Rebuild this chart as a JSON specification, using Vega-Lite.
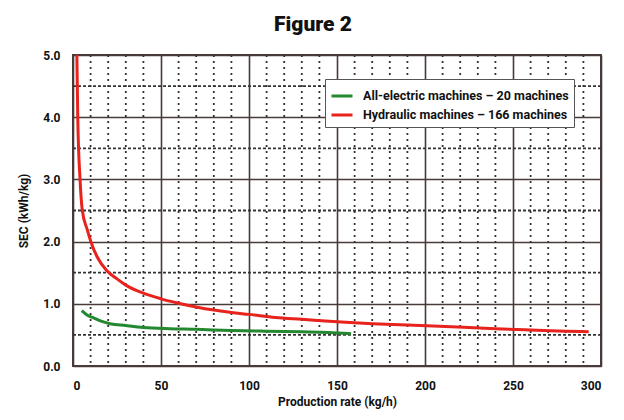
{
  "$schema": "https://vega.github.io/schema/vega-lite/v6.json",
  "autosize": {"type": "none"},
  "width": 528,
  "height": 311,
  "padding": {"left": 73, "top": 55, "right": 23, "bottom": 54},
  "background": "white",
  "title": {
    "text": "Figure 2",
    "fontSize": 21,
    "font": "Roboto",
    "fontWeight": 900,
    "color": "#111",
    "anchor": "middle",
    "dx": -24,
    "offset": 14
  },
  "config": {
    "view": {"stroke": "#4a3b3b", "strokeWidth": 2},
    "axis": {
      "labelFont": "Roboto",
      "labelFontWeight": "bold",
      "labelFontSize": 12,
      "labelColor": "#111",
      "titleFont": "Roboto",
      "titleFontWeight": "bold",
      "titleFontSize": 12,
      "titleColor": "#111",
      "domain": false,
      "ticks": false,
      "gridColor": "#4a3b3b",
      "gridWidth": 1.6,
      "gridOpacity": 1
    }
  },
  "datasets": {
    "curves": [
      {"series": "Hydraulic machines – 166 machines", "rate": 2.2, "sec": 5.0},
      {"series": "Hydraulic machines – 166 machines", "rate": 2.7, "sec": 4.0},
      {"series": "Hydraulic machines – 166 machines", "rate": 4.0, "sec": 3.0},
      {"series": "Hydraulic machines – 166 machines", "rate": 5.3, "sec": 2.5},
      {"series": "Hydraulic machines – 166 machines", "rate": 8, "sec": 2.2},
      {"series": "Hydraulic machines – 166 machines", "rate": 10.5, "sec": 1.97},
      {"series": "Hydraulic machines – 166 machines", "rate": 14, "sec": 1.74},
      {"series": "Hydraulic machines – 166 machines", "rate": 19, "sec": 1.54},
      {"series": "Hydraulic machines – 166 machines", "rate": 25, "sec": 1.4},
      {"series": "Hydraulic machines – 166 machines", "rate": 30, "sec": 1.3},
      {"series": "Hydraulic machines – 166 machines", "rate": 40, "sec": 1.17},
      {"series": "Hydraulic machines – 166 machines", "rate": 50, "sec": 1.08},
      {"series": "Hydraulic machines – 166 machines", "rate": 60, "sec": 1.01},
      {"series": "Hydraulic machines – 166 machines", "rate": 70, "sec": 0.95},
      {"series": "Hydraulic machines – 166 machines", "rate": 80, "sec": 0.9},
      {"series": "Hydraulic machines – 166 machines", "rate": 90, "sec": 0.86},
      {"series": "Hydraulic machines – 166 machines", "rate": 100, "sec": 0.83},
      {"series": "Hydraulic machines – 166 machines", "rate": 115, "sec": 0.78},
      {"series": "Hydraulic machines – 166 machines", "rate": 130, "sec": 0.75},
      {"series": "Hydraulic machines – 166 machines", "rate": 150, "sec": 0.71},
      {"series": "Hydraulic machines – 166 machines", "rate": 170, "sec": 0.68},
      {"series": "Hydraulic machines – 166 machines", "rate": 190, "sec": 0.66},
      {"series": "Hydraulic machines – 166 machines", "rate": 215, "sec": 0.63},
      {"series": "Hydraulic machines – 166 machines", "rate": 240, "sec": 0.6},
      {"series": "Hydraulic machines – 166 machines", "rate": 260, "sec": 0.58},
      {"series": "Hydraulic machines – 166 machines", "rate": 280, "sec": 0.56},
      {"series": "Hydraulic machines – 166 machines", "rate": 293, "sec": 0.55},
      {"series": "All-electric machines – 20 machines", "rate": 5, "sec": 0.89},
      {"series": "All-electric machines – 20 machines", "rate": 8, "sec": 0.82},
      {"series": "All-electric machines – 20 machines", "rate": 12, "sec": 0.77},
      {"series": "All-electric machines – 20 machines", "rate": 16, "sec": 0.72},
      {"series": "All-electric machines – 20 machines", "rate": 21, "sec": 0.68},
      {"series": "All-electric machines – 20 machines", "rate": 30, "sec": 0.65},
      {"series": "All-electric machines – 20 machines", "rate": 40, "sec": 0.62},
      {"series": "All-electric machines – 20 machines", "rate": 55, "sec": 0.6},
      {"series": "All-electric machines – 20 machines", "rate": 70, "sec": 0.59},
      {"series": "All-electric machines – 20 machines", "rate": 90, "sec": 0.57},
      {"series": "All-electric machines – 20 machines", "rate": 110, "sec": 0.56},
      {"series": "All-electric machines – 20 machines", "rate": 130, "sec": 0.55},
      {"series": "All-electric machines – 20 machines", "rate": 145, "sec": 0.54},
      {"series": "All-electric machines – 20 machines", "rate": 158, "sec": 0.52}
    ],
    "vgrid": [
      {"rate": 10}, {"rate": 20}, {"rate": 30}, {"rate": 40},
      {"rate": 60}, {"rate": 70}, {"rate": 80}, {"rate": 90},
      {"rate": 110}, {"rate": 120}, {"rate": 130}, {"rate": 140},
      {"rate": 160}, {"rate": 170}, {"rate": 180}, {"rate": 190},
      {"rate": 210}, {"rate": 220}, {"rate": 230}, {"rate": 240},
      {"rate": 260}, {"rate": 270}, {"rate": 280}, {"rate": 290}
    ],
    "hgrid": [
      {"sec": 0.5}, {"sec": 1.5}, {"sec": 2.5}, {"sec": 3.5}, {"sec": 4.5}
    ]
  },
  "layer": [
    {
      "data": {"name": "vgrid"},
      "mark": {"type": "rule", "color": "#333", "strokeWidth": 1.8, "strokeDash": [2, 4]},
      "encoding": {
        "x": {"field": "rate", "type": "quantitative", "scale": {"domain": [0, 300]}}
      }
    },
    {
      "data": {"name": "hgrid"},
      "mark": {"type": "rule", "color": "#333", "strokeWidth": 1.8, "strokeDash": [3, 2]},
      "encoding": {
        "y": {"field": "sec", "type": "quantitative", "scale": {"domain": [0, 5]}}
      }
    },
    {
      "data": {"name": "curves"},
      "mark": {"type": "line", "strokeWidth": 3, "interpolate": "monotone"},
      "encoding": {
        "x": {
          "field": "rate", "type": "quantitative",
          "scale": {"domain": [0, 300]},
          "axis": {"values": [0, 50, 100, 150, 200, 250, 300], "labelPadding": 14, "title": "Production rate (kg/h)", "titlePadding": 5, "grid": true}
        },
        "y": {
          "field": "sec", "type": "quantitative",
          "scale": {"domain": [0, 5]},
          "axis": {"values": [0, 1, 2, 3, 4, 5], "format": ".1f", "labelPadding": 13, "title": "SEC (kWh/kg)", "titlePadding": 12, "grid": true}
        },
        "color": {
          "field": "series", "type": "nominal",
          "scale": {
            "domain": ["All-electric machines – 20 machines", "Hydraulic machines – 166 machines"],
            "range": ["#23882f", "#e8221c"]
          },
          "legend": {
            "title": null,
            "orient": "none",
            "legendX": 252,
            "legendY": 24,
            "symbolType": "stroke",
            "symbolSize": 441,
            "symbolStrokeWidth": 3,
            "labelFont": "Roboto",
            "labelFontWeight": "bold",
            "labelFontSize": 12.5,
            "labelColor": "#111",
            "fillColor": "white",
            "strokeColor": "#555",
            "padding": 5,
            "rowPadding": 0,
            "labelOffset": 9,
            "labelLimit": 300
          }
        }
      }
    }
  ]
}
